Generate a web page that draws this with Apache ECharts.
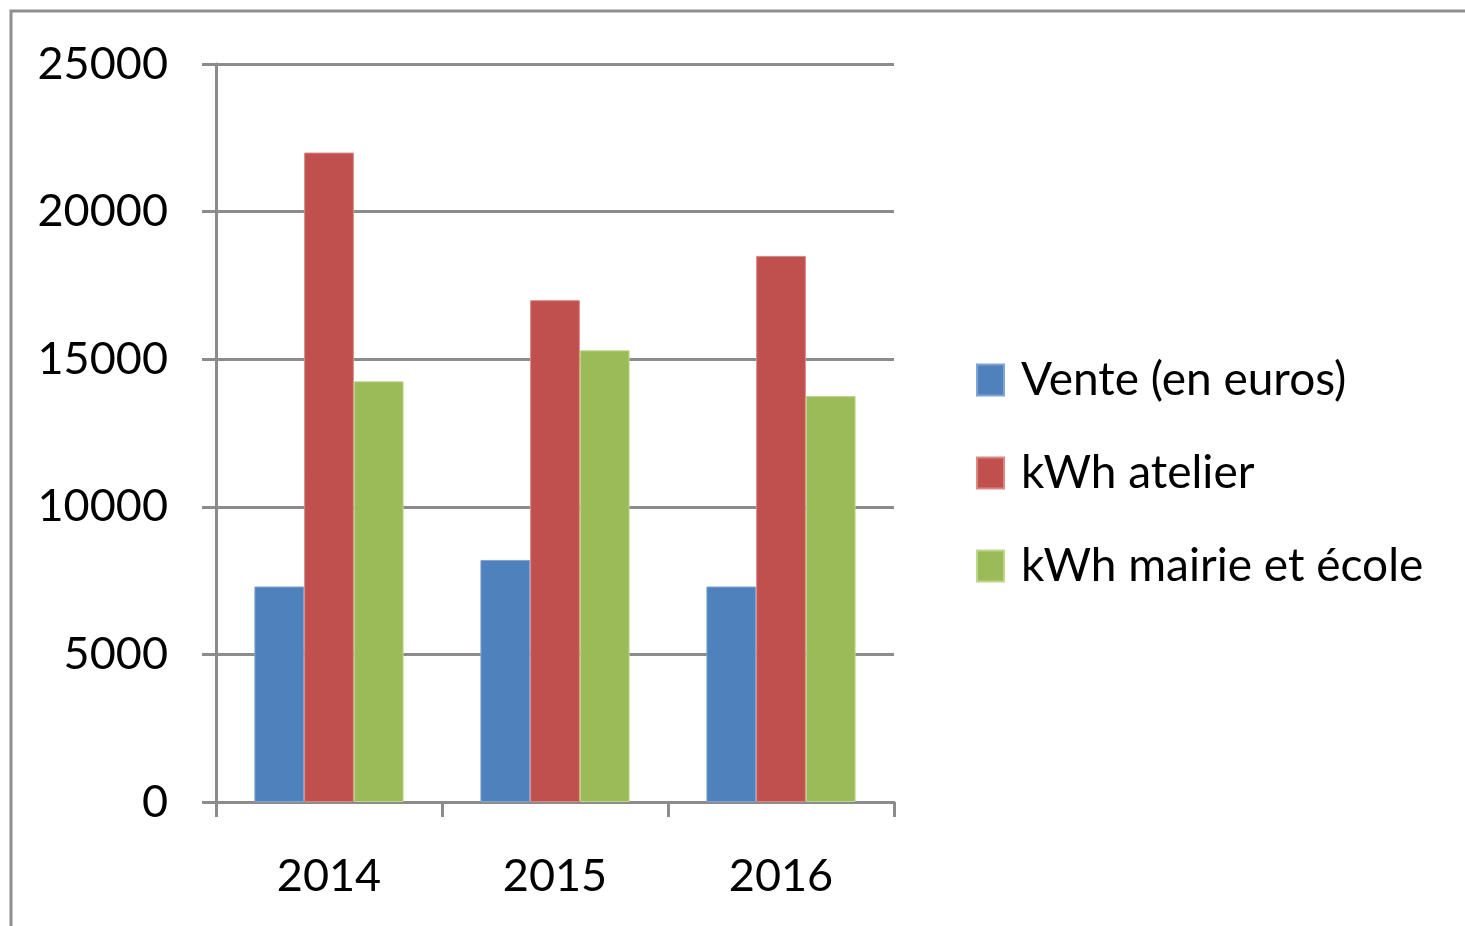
<!DOCTYPE html>
<html>
<head>
<meta charset="utf-8">
<script src="https://cdn.jsdelivr.net/npm/echarts@6/dist/echarts.min.js"></script>
<style>
html,body{margin:0;padding:0;background:#fff;}
#chart{width:1465px;height:926px;}
</style>
</head>
<body>
<div id="chart"></div>
<script>
const categories = ['2014', '2015', '2016'];
const seriesNames = ['Vente (en euros)', 'kWh atelier', 'kWh mairie et école'];
const vente = [7300, 8200, 7300];
const kwhAtelier = [22000, 17000, 18500];
const kwhMairie = [14250, 15300, 13750];
const yTicks = [0, 5000, 10000, 15000, 20000, 25000];

const colors = ['#4F81BD', '#C0504D', '#9BBB59'];
const borders = ['#7fa3d3', '#d98886', '#bcd68a'];
const axisGray = '#8c8c8c';
const font = 'Lato, "Open Sans", sans-serif';

const chart = echarts.init(document.getElementById('chart'), null, {renderer: 'canvas'});
const dataSets = [vente, kwhAtelier, kwhMairie];

chart.setOption({
  animation: false,
  backgroundColor: '#ffffff',
  textStyle: {fontFamily: font},
  graphic: [{
    type: 'rect',
    shape: {x: 11, y: 11, width: 1500, height: 1000},
    style: {fill: 'none', stroke: '#8e8e8e', lineWidth: 3},
    z: -1
  }],
  grid: {left: 216, right: 571, top: 64, bottom: 124, containLabel: false},
  legend: {
    orient: 'vertical',
    left: 971,
    top: 352,
    padding: 5,
    icon: 'rect',
    itemWidth: 27,
    itemHeight: 31,
    itemGap: 47,
    selectedMode: false,
    textStyle: {fontSize: 46, color: '#000', fontFamily: font, padding: [0, 0, 0, 12]},
    data: seriesNames
  },
  xAxis: {
    type: 'category',
    data: categories,
    axisLine: {show: true, lineStyle: {color: axisGray, width: 3}},
    axisTick: {show: true, alignWithLabel: false, length: 15, lineStyle: {color: axisGray, width: 3}},
    axisLabel: {fontSize: 45, color: '#000', margin: 52, fontFamily: font},
    splitLine: {show: false}
  },
  yAxis: {
    type: 'value',
    min: 0,
    max: 25000,
    interval: 5000,
    axisLine: {show: true, lineStyle: {color: axisGray, width: 3}},
    axisTick: {show: true, length: 14, lineStyle: {color: axisGray, width: 3}},
    axisLabel: {
      fontSize: 45, color: '#000', margin: 48, fontFamily: font,
      formatter: v => yTicks.includes(v) ? String(v) : ''
    },
    splitLine: {show: true, lineStyle: {color: axisGray, width: 3}}
  },
  series: seriesNames.map((name, i) => ({
    name: name,
    type: 'bar',
    data: dataSets[i],
    barGap: '0%',
    barCategoryGap: '34%',
    itemStyle: {color: colors[i], borderColor: borders[i], borderWidth: 1},
    z: 3
  }))
});
</script>
</body>
</html>
